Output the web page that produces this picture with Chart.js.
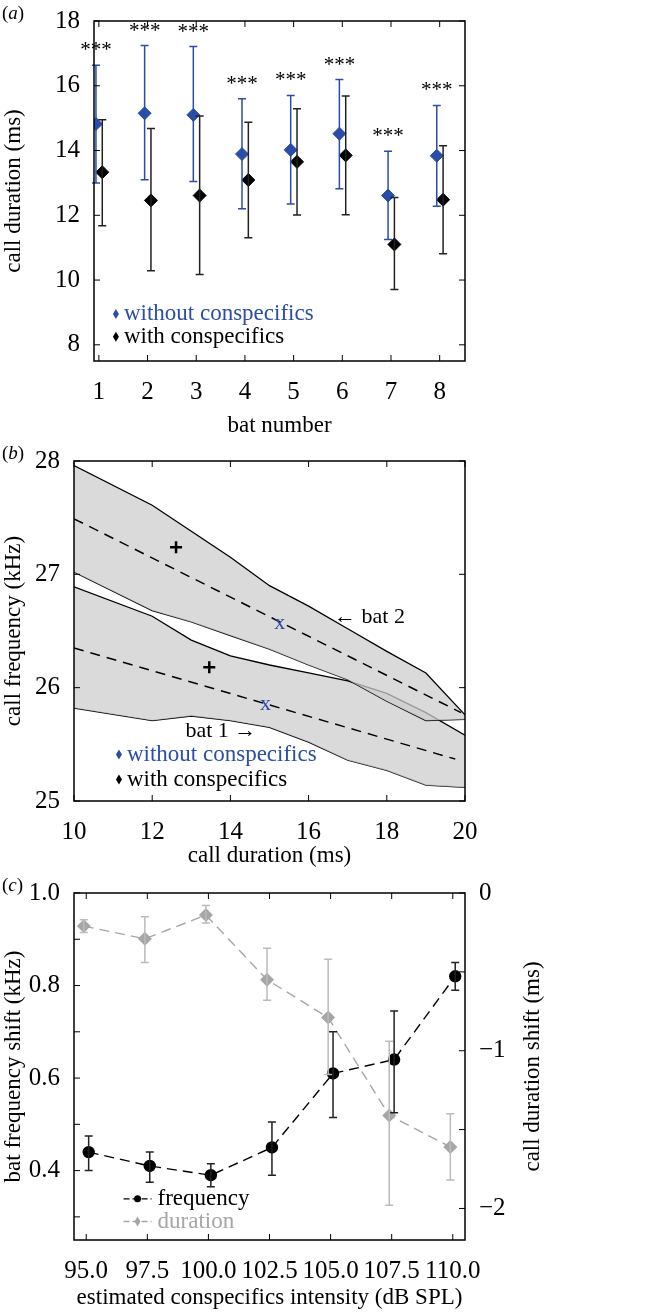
<!DOCTYPE html>
<html>
<head>
<meta charset="utf-8">
<script src="https://cdn.jsdelivr.net/npm/chart.js@4.4.0/dist/chart.umd.min.js"></script>
<style>
  body { margin: 0; background: #fff; width: 660px; height: 1312px; position: relative; font-family: "Liberation Serif", serif; }
  .box { position: absolute; left: 0; width: 660px; }
  .lab { position: absolute; left: 2px; font-size: 19px; }
</style>
</head>
<body>
<div class="box" style="top:0;height:440px"><canvas id="chartA"></canvas></div>
<div class="box" style="top:440px;height:430px"><canvas id="chartB"></canvas></div>
<div class="box" style="top:870px;height:442px"><canvas id="chartC"></canvas></div>
<div class="lab" style="top:2px">(<i>a</i>)</div>
<div class="lab" style="top:442px">(<i>b</i>)</div>
<div class="lab" style="top:874px">(<i>c</i>)</div>
<script>
// panel (a): call duration per bat
const bats = [1, 2, 3, 4, 5, 6, 7, 8];
const withoutMean = [14.82, 15.15, 15.10, 13.89, 14.02, 14.52, 12.61, 13.84];
const withoutHi = [16.63, 17.24, 17.21, 15.60, 15.70, 16.19, 13.98, 15.39];
const withoutLo = [13.00, 13.10, 13.04, 12.20, 12.35, 12.82, 11.25, 12.28];
const withMean = [13.33, 12.46, 12.61, 13.09, 13.65, 13.85, 11.10, 12.48];
const withHi = [14.95, 14.68, 15.07, 14.87, 15.29, 15.68, 12.55, 14.15];
const withLo = [11.68, 10.29, 10.17, 11.31, 12.01, 12.02, 9.71, 10.81];

// panel (b): bands of call frequency vs duration
const bandX = [10, 12, 13, 14, 15, 16, 17, 18, 19, 20];
const bat2Upper = [27.96, 27.61, 27.38, 27.15, 26.90, 26.72, 26.52, 26.32, 26.13, 25.76];
const bat2Lower = [27.02, 26.68, 26.58, 26.46, 26.34, 26.20, 26.07, 25.88, 25.71, 25.72];
const bat1Upper = [26.89, 26.63, 26.42, 26.28, 26.20, 26.13, 26.06, 25.95, 25.78, 25.58];
const bat1Lower = [25.82, 25.71, 25.75, 25.71, 25.65, 25.52, 25.36, 25.27, 25.14, 25.12];
const bat2Fit = [{x: 10, y: 27.49}, {x: 19.9, y: 25.78}];
const bat1Fit = [{x: 10, y: 26.35}, {x: 19.75, y: 25.37}];
const withPts = [{x: 12.61, y: 27.24}, {x: 13.46, y: 26.18}];
const withoutPts = [{x: 15.26, y: 26.57}, {x: 14.90, y: 25.85}];

// panel (c): shifts vs conspecifics intensity
const freqX = [95.1, 97.6, 100.1, 102.6, 105.1, 107.6, 110.1];
const freqMean = [0.44, 0.41, 0.39, 0.45, 0.61, 0.64, 0.82];
const freqLo = [0.40, 0.375, 0.365, 0.39, 0.515, 0.525, 0.79];
const freqHi = [0.475, 0.44, 0.415, 0.505, 0.70, 0.745, 0.85];
const durX = [94.9, 97.4, 99.9, 102.4, 104.9, 107.4, 109.9];
const durMean = [-0.21, -0.29, -0.14, -0.55, -0.79, -1.41, -1.61];
const durHi = [-0.17, -0.15, -0.08, -0.35, -0.42, -0.94, -1.40];
const durLo = [-0.25, -0.44, -0.19, -0.68, -1.15, -1.98, -1.82];

const FONT = 'Liberation Serif';
const BLUE = '#2a4da8';
const GRAY = '#a6a6a6';
Chart.defaults.font.family = FONT;
Chart.defaults.color = '#000';

// frame + inward ticks + error bars + free texts
const extras = {
  id: 'extras',
  afterDatasetsDraw(chart, args, opts) {
    const ctx = chart.ctx, a = chart.chartArea;
    ctx.save();
    (opts.errors || []).forEach(e => {
      const sx = chart.scales.x, sy = chart.scales[e.axis || 'y'];
      ctx.strokeStyle = e.color; ctx.lineWidth = 1.5;
      e.x.forEach((xv, i) => {
        const px = sx.getPixelForValue(xv);
        const p1 = sy.getPixelForValue(e.lo[i]), p2 = sy.getPixelForValue(e.hi[i]);
        ctx.beginPath();
        ctx.moveTo(px, p1); ctx.lineTo(px, p2);
        ctx.moveTo(px - 4, p1); ctx.lineTo(px + 4, p1);
        ctx.moveTo(px - 4, p2); ctx.lineTo(px + 4, p2);
        ctx.stroke();
      });
    });
    ctx.strokeStyle = '#000'; ctx.lineWidth = 1.5;
    ctx.strokeRect(a.left, a.top, a.right - a.left, a.bottom - a.top);
    ctx.lineWidth = 1;
    chart.scales.x.ticks.forEach(t => {
      const px = chart.scales.x.getPixelForValue(t.value);
      ctx.beginPath();
      ctx.moveTo(px, a.bottom); ctx.lineTo(px, a.bottom - 6);
      ctx.moveTo(px, a.top); ctx.lineTo(px, a.top + 6);
      ctx.stroke();
    });
    const yl = chart.scales.y, yr = chart.scales.y2;
    yl.ticks.forEach(t => {
      const py = yl.getPixelForValue(t.value);
      ctx.beginPath();
      ctx.moveTo(a.left, py); ctx.lineTo(a.left + 6, py);
      if (!yr) { ctx.moveTo(a.right, py); ctx.lineTo(a.right - 6, py); }
      ctx.stroke();
    });
    if (yr) {
      yr.ticks.forEach(t => {
        const py = yr.getPixelForValue(t.value);
        ctx.beginPath(); ctx.moveTo(a.right, py); ctx.lineTo(a.right - 6, py); ctx.stroke();
      });
      // right axis title, reading bottom to top like the left one
      ctx.save();
      ctx.translate(yr.right - 12, (a.top + a.bottom) / 2);
      ctx.rotate(-Math.PI / 2);
      ctx.font = '23px ' + FONT; ctx.fillStyle = '#000';
      ctx.textAlign = 'center'; ctx.textBaseline = 'middle';
      ctx.fillText(opts.rightTitle, 0, 0);
      ctx.restore();
    }
    (opts.texts || []).forEach(t => {
      const sy = chart.scales[t.axis || 'y'];
      ctx.font = (t.size || 22) + 'px ' + FONT;
      ctx.fillStyle = t.color || '#000';
      ctx.textAlign = t.align || 'left'; ctx.textBaseline = 'middle';
      ctx.fillText(t.text, chart.scales.x.getPixelForValue(t.x), sy.getPixelForValue(t.y));
    });
    (opts.keys || []).forEach(k => {
      const px = chart.scales.x.getPixelForValue(k.x), py = chart.scales.y.getPixelForValue(k.y);
      ctx.fillStyle = k.color; ctx.strokeStyle = k.color;
      if (k.dash) {
        ctx.setLineDash([6, 3]); ctx.lineWidth = 1.3;
        ctx.beginPath(); ctx.moveTo(px - 14, py); ctx.lineTo(px + 14, py); ctx.stroke();
        ctx.setLineDash([]);
      }
      ctx.beginPath();
      if (k.shape === 'circle') ctx.arc(px, py, 3.5, 0, Math.PI * 2);
      else { ctx.moveTo(px, py - 5); ctx.lineTo(px + 3, py); ctx.lineTo(px, py + 5); ctx.lineTo(px - 3, py); ctx.closePath(); }
      ctx.fill();
      ctx.font = '23px ' + FONT; ctx.textAlign = 'left'; ctx.textBaseline = 'middle';
      ctx.fillText(k.text, px + (k.dash ? 20 : 8), py);
    });
    ctx.restore();
  }
};

function fixedTicks(start, size, max) {
  return s => { const t = []; for (let v = start; v <= max + 1e-9; v += size) t.push({ value: +v.toFixed(3) }); s.ticks = t; };
}
function axisX(min, max, step, title, h, cb) {
  return {
    type: 'linear', min, max, grid: { display: false }, border: { display: false },
    afterBuildTicks: fixedTicks(step.start, step.size, max),
    ticks: { font: { size: 25 }, padding: 8, callback: cb || (v => v) },
    title: { display: true, text: title, font: { size: 23 }, padding: 0 },
    afterFit: s => { s.height = h; }
  };
}
function axisY(min, max, step, title, w, cb, pos) {
  return {
    type: 'linear', position: pos || 'left', min, max, grid: { display: false }, border: { display: false },
    afterBuildTicks: fixedTicks(step.start, step.size, max),
    ticks: { font: { size: 25 }, padding: 6, callback: cb || (v => v) },
    title: { display: !!title, text: title, font: { size: 23 }, padding: 0 },
    afterFit: s => { s.width = w; }
  };
}

// ----- (a)
const starTexts = bats.map((b, i) => ({ text: '***', x: b - 0.06, y: withoutHi[i] + 0.45, align: 'center', size: 21 }));
new Chart(document.getElementById('chartA'), {
  type: 'scatter',
  data: { datasets: [
    { data: bats.map((b, i) => ({ x: b - 0.06, y: withoutMean[i] })), pointStyle: 'rectRot', pointRadius: 6.5, backgroundColor: BLUE, borderColor: BLUE },
    { data: bats.map((b, i) => ({ x: b + 0.07, y: withMean[i] })), pointStyle: 'rectRot', pointRadius: 6.5, backgroundColor: '#000', borderColor: '#000' }
  ] },
  options: {
    responsive: true, maintainAspectRatio: false, animation: false,
    layout: { padding: { top: 14, right: 195, left: 0, bottom: 0 } },
    plugins: { legend: { display: false }, tooltip: { enabled: false },
      extras: {
        errors: [
          { x: bats.map(b => b - 0.06), lo: withoutLo, hi: withoutHi, color: BLUE },
          { x: bats.map(b => b + 0.07), lo: withLo, hi: withHi, color: '#222' }
        ],
        texts: starTexts,
        keys: [
          { x: 1.35, y: 8.95, text: 'without conspecifics', color: BLUE },
          { x: 1.35, y: 8.25, text: 'with conspecifics', color: '#000' }
        ]
      } },
    scales: {
      x: axisX(0.9, 8.52, { start: 1, size: 1 }, 'bat number', 79),
      y: axisY(7.5, 18, { start: 8, size: 2 }, 'call duration (ms)', 94)
    }
  },
  plugins: [extras]
});

// ----- (b)
const bandStyle = { showLine: true, pointRadius: 0, borderColor: '#000', borderWidth: 1.3, backgroundColor: 'rgba(205,205,205,0.75)', order: 5 };
const toPts = ys => bandX.map((x, i) => ({ x, y: ys[i] }));
const dashStyle = { showLine: true, pointRadius: 0, borderColor: '#000', borderWidth: 1.5, borderDash: [10, 7], order: 1 };
new Chart(document.getElementById('chartB'), {
  type: 'scatter',
  data: { datasets: [
    { data: withPts, pointStyle: 'cross', pointRadius: 6, pointBorderColor: '#000', borderColor: '#000', pointBorderWidth: 2.5, order: 0 },
    { ...dashStyle, data: bat2Fit },
    { ...dashStyle, data: bat1Fit },
    { ...bandStyle, data: toPts(bat2Upper), fill: '+1' },
    { ...bandStyle, data: toPts(bat2Lower), fill: false },
    { ...bandStyle, data: toPts(bat1Upper), fill: '+1' },
    { ...bandStyle, data: toPts(bat1Lower), fill: false }
  ] },
  options: {
    responsive: true, maintainAspectRatio: false, animation: false,
    layout: { padding: { top: 14, right: 195, left: 0, bottom: 0 } },
    plugins: { legend: { display: false }, tooltip: { enabled: false },
      extras: {
        texts: [
          { text: 'x', x: withoutPts[0].x, y: withoutPts[0].y, color: BLUE, align: 'center' },
          { text: 'x', x: withoutPts[1].x, y: withoutPts[1].y, color: BLUE, align: 'center' },
          { text: '\u2190 bat 2', x: 16.65, y: 26.62, size: 22 },
          { text: 'bat 1 \u2192', x: 12.85, y: 25.62, size: 22 }
        ],
        keys: [
          { x: 11.15, y: 25.41, text: 'without conspecifics', color: BLUE },
          { x: 11.15, y: 25.19, text: 'with conspecifics', color: '#000' }
        ]
      } },
    scales: {
      x: axisX(10, 20, { start: 10, size: 2 }, 'call duration (ms)', 69),
      y: axisY(25, 28, { start: 25, size: 1 }, 'call frequency (kHz)', 74)
    }
  },
  plugins: [extras]
});

// ----- (c)
new Chart(document.getElementById('chartC'), {
  type: 'scatter',
  data: { datasets: [
    { data: durX.map((x, i) => ({ x, y: durMean[i] })), yAxisID: 'y2', showLine: true, borderDash: [10, 6], borderColor: GRAY, borderWidth: 1.4,
      pointStyle: 'rectRot', pointRadius: 6, pointBackgroundColor: GRAY, pointBorderColor: GRAY },
    { data: freqX.map((x, i) => ({ x, y: freqMean[i] })), yAxisID: 'y', showLine: true, borderDash: [10, 6], borderColor: '#000', borderWidth: 1.4,
      pointStyle: 'circle', pointRadius: 5.5, pointBackgroundColor: '#000', pointBorderColor: '#000' }
  ] },
  options: {
    responsive: true, maintainAspectRatio: false, animation: false,
    layout: { padding: { top: 23, right: 115, left: 0, bottom: 0 } },
    plugins: { legend: { display: false }, tooltip: { enabled: false },
      extras: {
        rightTitle: 'call duration shift (ms)',
        errors: [
          { x: durX, lo: durLo, hi: durHi, color: '#bbb', axis: 'y2' },
          { x: freqX, lo: freqLo, hi: freqHi, color: '#222', axis: 'y' }
        ],
        keys: [
          { x: 97.1, y: 0.339, text: 'frequency', color: '#000', shape: 'circle', dash: true },
          { x: 97.1, y: 0.29, text: 'duration', color: GRAY, dash: true }
        ]
      } },
    scales: {
      x: axisX(94.5, 110.5, { start: 95, size: 2.5 }, 'estimated conspecifics intensity (dB SPL)', 72, v => v.toFixed(1)),
      y: axisY(0.25, 1.0, { start: 0.3, size: 0.1 }, 'bat frequency shift (kHz)', 74, v => (Math.round(v * 10) % 2 === 0 ? v.toFixed(1) : '')),
      y2: axisY(-2.2, 0, { start: -2, size: 0.5 }, '', 80, v => (Number.isInteger(v) ? String(v).replace('-', '\u2212') : ''), 'right')
    }
  },
  plugins: [extras]
});
</script>
</body>
</html>
